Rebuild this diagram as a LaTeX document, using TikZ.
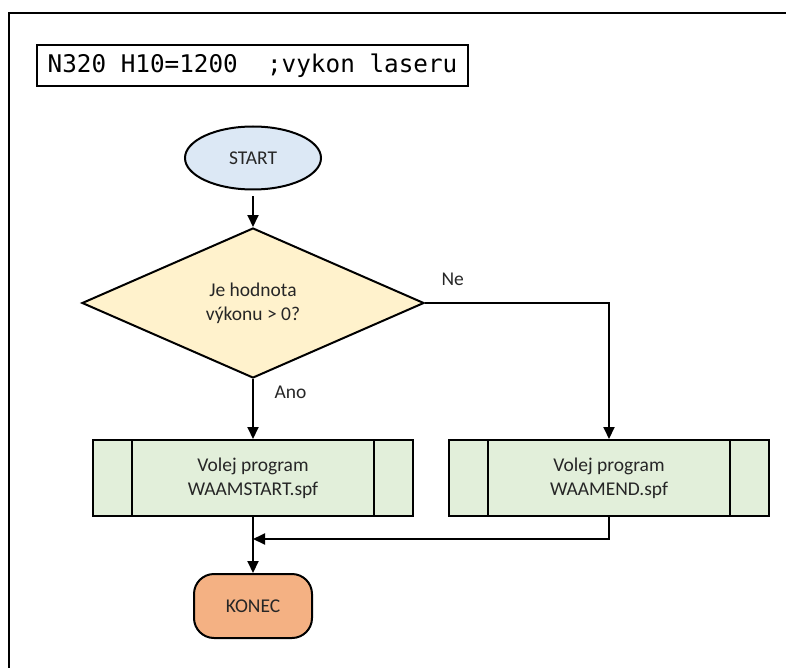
\documentclass[tikz,border=0pt]{standalone}
\usepackage{fontspec}
\setmainfont{Carlito}
\newfontfamily\codefont{DejaVu Sans Mono}
\usetikzlibrary{shapes.geometric,arrows.meta}
\definecolor{startblue}{HTML}{DCE8F5}
\definecolor{decyellow}{HTML}{FFF2CC}
\definecolor{boxgreen}{HTML}{E2EFDA}
\definecolor{endorange}{HTML}{F4B183}
\definecolor{txt}{HTML}{262626}
\tikzset{
  lw/.style={line width=2pt},
  arr/.style={lw,-{Triangle[width=11pt,length=12pt]}},
  lbl/.style={font=\fontsize{19.5}{24}\selectfont,text=txt},
  startnode/.style={ellipse,draw,lw,fill=startblue,minimum width=136pt,minimum height=63pt,inner sep=0pt,lbl},
  decnode/.style={diamond,draw,lw,fill=decyellow,minimum width=342pt,minimum height=150pt,inner sep=0pt,shape aspect=2.28,lbl,align=center},
  procnode/.style={rectangle,draw,lw,fill=boxgreen,minimum width=320pt,minimum height=76pt,inner sep=0pt,lbl,align=center},
  endnode/.style={rectangle,rounded corners=20pt,draw,lw,fill=endorange,minimum width=118pt,minimum height=64pt,inner sep=0pt,lbl},
}
\begin{document}
\begin{tikzpicture}[x=1pt,y=-1pt]
\useasboundingbox (0,0) rectangle (786,668);
\begin{scope}
\clip (0,0) rectangle (786,668);
\draw[lw] (9,13) rectangle (820,700);
\end{scope}
\node[draw,lw,fill=white,minimum width=431pt,minimum height=41pt,inner sep=0pt,font=\codefont\fontsize{24.3}{26}\selectfont] (code) at (252.5,65.5) {N320 H10=1200\ \ ;vykon laseru};
\node[startnode] (start) at (253,158) {START};
\node[decnode] (dec) at (253,303) {Je hodnota\\výkonu > 0?};
\node[procnode] (lbox) at (253,478) {Volej program\\WAAMSTART.spf};
\node[procnode] (rbox) at (609,478) {Volej program\\WAAMEND.spf};
\node[endnode] (konec) at (253,606) {KONEC};
\draw[lw] ([xshift=40pt]lbox.north west) -- ([xshift=40pt]lbox.south west);
\draw[lw] ([xshift=-40pt]lbox.north east) -- ([xshift=-40pt]lbox.south east);
\draw[lw] ([xshift=40pt]rbox.north west) -- ([xshift=40pt]rbox.south west);
\draw[lw] ([xshift=-40pt]rbox.north east) -- ([xshift=-40pt]rbox.south east);
\coordinate (merge) at (253,539);
\draw[arr,shorten <=6pt] (start) -- (dec);
\draw[arr] (dec) -- (lbox);
\draw[arr] (dec.east) -| (rbox.north);
\draw[arr] (lbox) -- (konec);
\draw[arr] (rbox.south) |- (merge);
\node[lbl,anchor=base west] (ano) at (271,398) {Ano};
\node[lbl,anchor=base west] (ne) at (438,285) {Ne};
\end{tikzpicture}
\end{document}
